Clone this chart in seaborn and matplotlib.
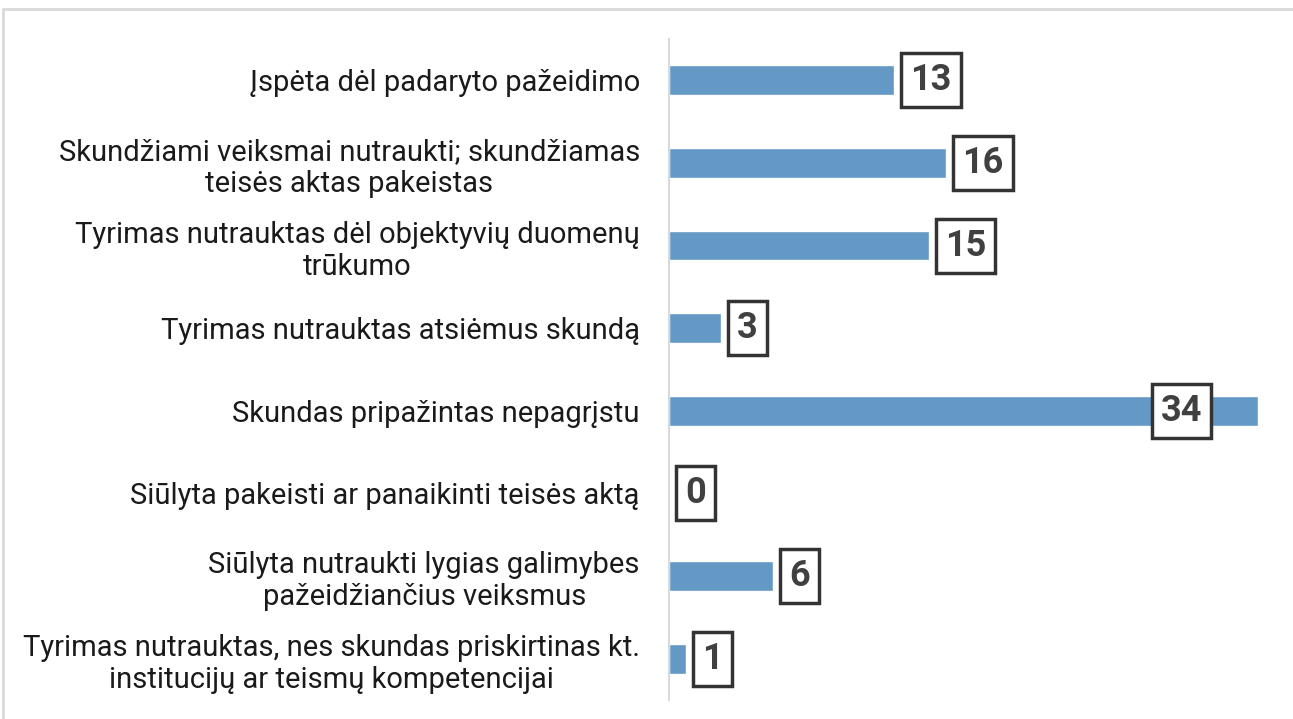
"""
Skundų tyrimo rezultatai - horizontali stulpelinė diagrama
"""

import matplotlib
matplotlib.use('Agg')
import matplotlib.pyplot as plt
import seaborn as sns
import pandas as pd
from matplotlib.patches import Rectangle

# duomenys
categories = [
    'Įspėta dėl padaryto pažeidimo',
    'Skundžiami veiksmai nutraukti; skundžiamas\nteisės aktas pakeistas',
    'Tyrimas nutrauktas dėl objektyvių duomenų\ntrūkumo',
    'Tyrimas nutrauktas atsiėmus skundą',
    'Skundas pripažintas nepagrįstu',
    'Siūlyta pakeisti ar panaikinti teisės aktą',
    'Siūlyta nutraukti lygias galimybes\npažeidžiančius veiksmus',
    'Tyrimas nutrauktas, nes skundas priskirtinas kt.\ninstitucijų ar teismų kompetencijai',
]
values = [13, 16, 15, 3, 34, 0, 6, 1]

df = pd.DataFrame({'kategorija': categories, 'reiksme': values})

sns.set_style('white')
plt.rcParams['font.family'] = ['Roboto', 'DejaVu Sans']

fig = plt.figure(figsize=(12.93, 7.19), dpi=100)
ax = fig.add_axes([0.5174, 0.0264, 0.4555, 0.9194])

sns.barplot(data=df, y='kategorija', x='reiksme', orient='h',
            color='#6399c4', saturation=1, width=0.36, ax=ax)

ax.set_xlim(0, max(values))
ax.set_ylim(len(values) - 0.5, -0.5)
ax.set_xlabel('')
ax.set_ylabel('')
ax.set_xticks([])
ax.tick_params(axis='y', length=0, pad=21, labelsize=21, labelcolor='#1a1a1a')
for lbl in ax.get_yticklabels():
    lbl.set_multialignment('center')
    lbl.set_linespacing(1.2)

for side in ['top', 'right', 'bottom']:
    ax.spines[side].set_visible(False)
ax.spines['left'].set_color('#d9d9d9')
ax.spines['left'].set_linewidth(1.5)

# reikšmių žymės rėmeliuose
box = dict(boxstyle='square,pad=0.25', facecolor='white',
           edgecolor='#333333', linewidth=2.5)
for i, v in enumerate(values):
    if v == max(values):
        ax.annotate(str(v), (v, i), xytext=(-40, 0), textcoords='offset points',
                    ha='right', va='center', fontsize=26, fontweight='bold',
                    color='#404040', bbox=box)
    else:
        ax.annotate(str(v), (v, i), xytext=(11.5, 0), textcoords='offset points',
                    ha='left', va='center', fontsize=26, fontweight='bold',
                    color='#404040', bbox=box)

# pilkas diagramos rėmelis
fig.patches.append(Rectangle((3 / 1293, -0.1), 1.2, 1 - 9.5 / 719 + 0.1,
                             transform=fig.transFigure, fill=False,
                             edgecolor='#d9d9d9', linewidth=2))

plt.savefig('out.png', dpi=100)
